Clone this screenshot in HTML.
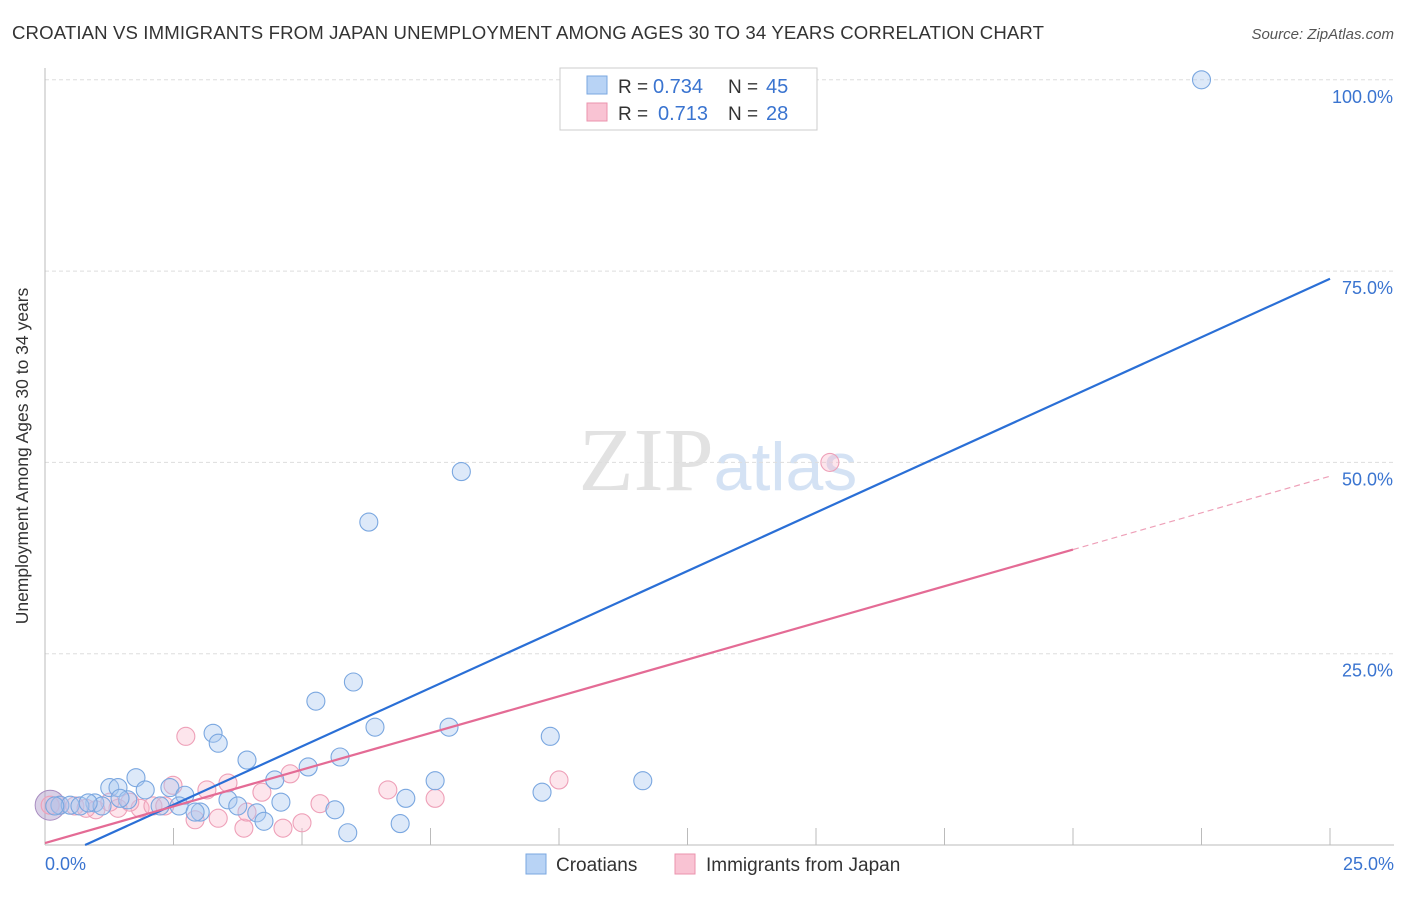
<!DOCTYPE html>
<html><head><meta charset="utf-8"><style>
body{margin:0;background:#fff;font-family:"Liberation Sans",sans-serif}
</style></head><body>
<svg width="1406" height="892" xmlns="http://www.w3.org/2000/svg" id="c">
<text x="12" y="39" font-size="18.6" fill="#333" textLength="1032">CROATIAN VS IMMIGRANTS FROM JAPAN UNEMPLOYMENT AMONG AGES 30 TO 34 YEARS CORRELATION CHART</text>
<text x="1394" y="39" font-size="15" fill="#555" font-style="italic" text-anchor="end">Source: ZipAtlas.com</text>
<text x="28" y="456" font-size="17.5" fill="#333" text-anchor="middle" transform="rotate(-90 28 456)">Unemployment Among Ages 30 to 34 years</text>
<text x="718" y="490" font-size="90" fill="#e2e2e2" text-anchor="middle" font-family="Liberation Serif">ZIP<tspan fill="#d4e2f4" font-family="Liberation Sans" font-size="68">atlas</tspan></text>
<g id="grid"></g><g id="pts"></g><g id="lines"></g>
<g>
<rect x="560" y="68" width="257" height="62" fill="#fff" stroke="#ccc"/>
<rect x="587" y="76" width="20" height="18" fill="#b8d3f5" stroke="#7aa7e0"/>
<rect x="587" y="103" width="20" height="18" fill="#f9c3d3" stroke="#eb93ae"/>
<text x="618" y="93" font-size="19" fill="#333">R =</text><text x="653" y="93" font-size="20" fill="#3a74d0">0.734</text>
<text x="728" y="93" font-size="19" fill="#333">N =</text><text x="766" y="93" font-size="20" fill="#3a74d0">45</text>
<text x="618" y="120" font-size="19" fill="#333">R =</text><text x="658" y="120" font-size="20" fill="#3a74d0">0.713</text>
<text x="728" y="120" font-size="19" fill="#333">N =</text><text x="766" y="120" font-size="20" fill="#3a74d0">28</text>
</g>
<g>
<rect x="526" y="854" width="20" height="20" fill="#b8d3f5" stroke="#7aa7e0"/>
<text x="556" y="871" font-size="19" fill="#333">Croatians</text>
<rect x="675" y="854" width="20" height="20" fill="#f9c3d3" stroke="#eb93ae"/>
<text x="706" y="871" font-size="19" fill="#333">Immigrants from Japan</text>
</g>
</svg>
<script>
const xTicks=[0,2.5,5,7.5,10,12.5,15,17.5,20,22.5,25];
const yTicks=[25,50,75,100];
const yTickLabels=["25.0%","50.0%","75.0%","100.0%"];
const blueX=[22.5,8.1,6.3,6.0,5.27,6.42,7.86,9.83,3.27,3.37,3.93,5.74,5.12,11.63,7.59,1.77,1.26,1.42,1.95,2.43,2.72,7.02,9.67,3.56,4.59,1.61,0.97,0.29,0.49,0.68,1.11,2.24,2.61,3.75,3.02,2.92,4.12,4.26,5.64,6.91,5.89,4.47,0.19,0.84,1.46];
const blueY=[100,48.8,42.2,21.3,18.8,15.4,15.4,14.2,14.6,13.3,11.1,11.5,10.2,8.4,8.4,8.8,7.5,7.5,7.2,7.5,6.5,6.1,6.9,5.9,5.6,5.9,5.5,5.2,5.2,5.1,5.1,5.1,5.1,5.1,4.3,4.3,4.2,3.1,4.6,2.8,1.6,8.5,5.1,5.5,6.1];
const pinkX=[2.74,15.27,10.0,4.77,6.67,7.59,5.35,2.49,3.15,3.56,4.22,1.85,0.99,1.42,0.58,0.29,2.1,2.33,1.65,2.92,3.37,3.87,4.63,5.0,3.93,0.8,0.1,1.26];
const pinkY=[14.2,50,8.5,9.3,7.2,6.1,5.4,7.8,7.2,8.1,6.9,4.8,4.6,4.8,5.1,5.2,5.1,5.1,5.6,3.3,3.5,2.2,2.2,2.9,4.3,4.8,5.2,5.6];
const blueLine=[0.78,0,25,74];
const pinkLine=[0,0.26,25,48.2];const pinkSolidEnd=20;
const X=v=>45+v*51.4, Y=v=>845-v*7.652;
const NS="http://www.w3.org/2000/svg";
function mk(t,a,p){const e=document.createElementNS(NS,t);for(const k in a)e.setAttribute(k,a[k]);p.appendChild(e);return e;}
const g=document.getElementById('grid');
yTicks.forEach((t,i)=>{const l=mk('line',{x1:45,x2:1394,y1:Y(t),y2:Y(t),stroke:'#ddd','stroke-dasharray':'4 3'},g);


const tx=mk('text',{x:1393,y:Y(t)+23,'font-size':18,fill:'#3a74d0','text-anchor':'end'},g);tx.textContent=yTickLabels[i];

});
const ax=mk('line',{x1:45,x2:1394,y1:845,y2:845,stroke:'#bbb'},g);


const ay=mk('line',{x1:45,x2:45,y1:68,y2:845,stroke:'#bbb'},g);


xTicks.slice(1).forEach(t=>{const l=mk('line',{x1:X(t),x2:X(t),y1:828,y2:845,stroke:'#bbb'},g);

});
const t0=mk('text',{x:45,y:870,'font-size':18,fill:'#3a74d0'},g);t0.textContent='0.0%';


const t1=mk('text',{x:1394,y:870,'font-size':18,fill:'#3a74d0','text-anchor':'end'},g);t1.textContent='25.0%';


const p=document.getElementById('pts');
const big=mk('circle',{cx:X(0.1),cy:Y(5.2),r:15,fill:'rgba(170,150,200,0.45)',stroke:'#a88cc0'},p);


pinkX.forEach((v,i)=>{const c=mk('circle',{cx:X(v),cy:Y(pinkY[i]),r:9,fill:'rgba(249,180,200,0.35)',stroke:'#eea0b8','stroke-width':1.1},p);

});
blueX.forEach((v,i)=>{const c=mk('circle',{cx:X(v),cy:Y(blueY[i]),r:9,fill:'rgba(170,200,240,0.4)',stroke:'#7aa7e0','stroke-width':1.1},p);

});
const L=document.getElementById('lines');
const bl=mk('line',{x1:X(blueLine[0]),y1:Y(blueLine[1]),x2:X(blueLine[2]),y2:Y(blueLine[3]),stroke:'#2a6fd6','stroke-width':2.2},L);


const py=x=>pinkLine[1]+(pinkLine[3]-pinkLine[1])*(x-pinkLine[0])/(pinkLine[2]-pinkLine[0]);
const pl=mk('line',{x1:X(pinkLine[0]),y1:Y(pinkLine[1]),x2:X(pinkSolidEnd),y2:Y(py(pinkSolidEnd)),stroke:'#e46b95','stroke-width':2.2},L);


const pd=mk('line',{x1:X(pinkSolidEnd),y1:Y(py(pinkSolidEnd)),x2:X(pinkLine[2]),y2:Y(pinkLine[3]),stroke:'#eea0b8','stroke-width':1.2,'stroke-dasharray':'6 4'},L);


</script>
</body></html>
